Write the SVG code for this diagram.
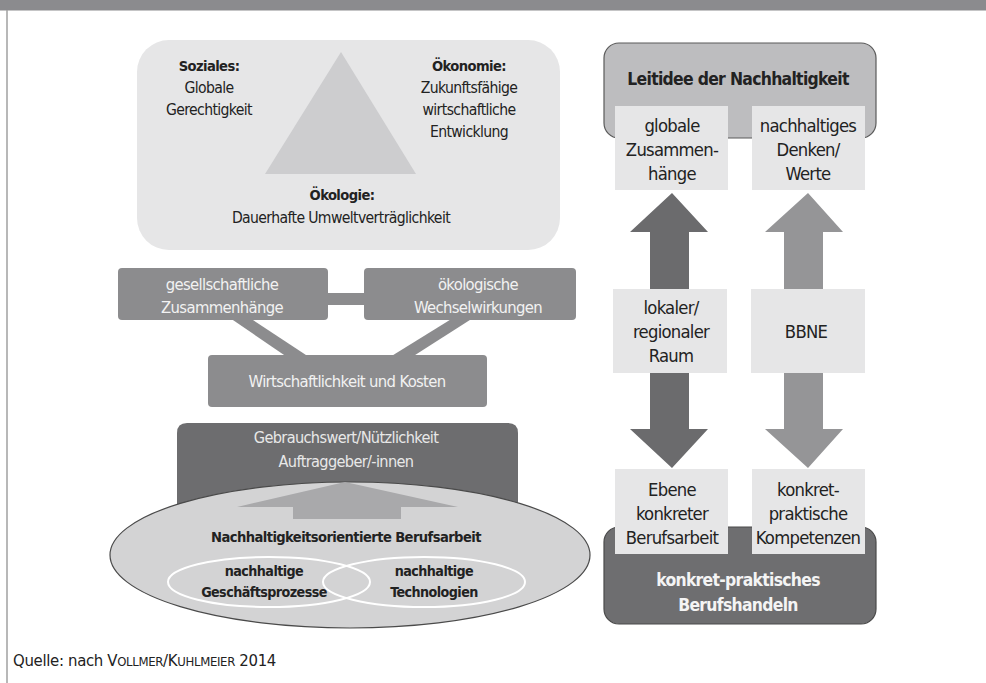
<svg xmlns="http://www.w3.org/2000/svg" width="986" height="683" viewBox="0 0 986 683">
<style>
text{font-family:"DejaVu Sans Condensed","Liberation Sans",Arial,sans-serif;text-anchor:middle;letter-spacing:-0.04em}
.l{font-size:15.6px;fill:#222}
.lh{font-size:14.6px;font-weight:bold;fill:#222}
.lb{font-size:14.6px;font-weight:bold;fill:#222}
.ib{font-size:14.2px;font-weight:bold;fill:#222}
.w{font-size:16.5px;fill:#f2f2f2}
.g{font-size:16.2px;fill:#e8e8e8}
.r{font-size:18.3px;fill:#222}
.rb{font-size:17.4px;font-weight:bold;fill:#222}
.rw{font-size:17.4px;font-weight:bold;fill:#f4f4f4}
.src{font-size:16.6px;fill:#222;text-anchor:start;letter-spacing:-0.02em}
.sc{font-size:13px}
</style>
<rect x="0" y="0" width="986" height="10.5" fill="#8b8b8e"/>
<line x1="7" y1="10" x2="7" y2="683" stroke="#a0a0a0" stroke-width="1.5"/>

<g id="pillars">
<rect x="137" y="40" width="423" height="210" rx="32" fill="#e6e6e7"/>
<polygon points="341,52 265,174 416,174" fill="#cdcdcf"/>
<text class="lh" x="209" y="71">Soziales:</text>
<text class="l" x="209" y="93">Globale</text>
<text class="l" x="209" y="115">Gerechtigkeit</text>
<text class="lh" x="469" y="71">Ökonomie:</text>
<text class="l" x="469" y="93">Zukunftsfähige</text>
<text class="l" x="469" y="115">wirtschaftliche</text>
<text class="l" x="469" y="137">Entwicklung</text>
<text class="lh" x="342" y="200">Ökologie:</text>
<text class="l" x="341" y="223">Dauerhafte Umweltverträglichkeit</text>
</g>

<g id="connectors">
<rect x="326" y="293" width="40" height="12" fill="#8c8c8e"/>
<polygon points="230,318 250,318 309,357 287,357" fill="#8c8c8e"/>
<polygon points="453,318 473,318 412,357 390,357" fill="#8c8c8e"/>
<polygon points="672,193 630,232 650,232 650,429 630,429 672,468 708,429 689,429 689,232 708,232" fill="#6b6b6d"/>
<polygon points="808,193 765,232 784,232 784,429 765,429 808,468 843,429 823,429 823,232 843,232" fill="#959597"/>
</g>

<g id="gesellschaft">
<rect x="118" y="268" width="210" height="52" rx="4" fill="#8c8c8e"/>
<text class="w" x="222" y="290">gesellschaftliche</text>
<text class="w" x="222" y="313">Zusammenhänge</text>
</g>
<g id="oekologisch">
<rect x="364" y="268" width="212" height="52" rx="4" fill="#8c8c8e"/>
<text class="w" x="478" y="290">ökologische</text>
<text class="w" x="478" y="313">Wechselwirkungen</text>
</g>
<g id="wirtschaft">
<rect x="208" y="355" width="279" height="52" rx="4" fill="#8c8c8e"/>
<text class="w" x="347" y="387">Wirtschaftlichkeit und Kosten</text>
</g>

<g id="gebrauchswert">
<path d="M177,530 V433 Q177,423 187,423 H508 Q518,423 518,433 V530 Z" fill="#6d6d6f"/>
<text class="g" x="346" y="443">Gebrauchswert/Nützlichkeit</text>
<text class="g" x="346" y="467">Auftraggeber/-innen</text>
</g>

<g id="berufsarbeit">
<ellipse cx="350" cy="555" rx="240" ry="73" fill="#d3d3d4" stroke="#4a4a4a" stroke-width="1.2"/>
<polygon points="345,482 458,507 401,507 401,519 293,519 293,507 237,507" fill="#a9a9ab"/>
<text class="lb" x="346" y="542">Nachhaltigkeitsorientierte Berufsarbeit</text>
<ellipse cx="269" cy="582" rx="101" ry="25" fill="none" stroke="#ffffff" stroke-width="2"/>
<ellipse cx="424" cy="582" rx="101" ry="25" fill="none" stroke="#ffffff" stroke-width="2"/>
<text class="ib" x="264" y="576">nachhaltige</text>
<text class="ib" x="264" y="597">Geschäftsprozesse</text>
<text class="ib" x="434" y="576">nachhaltige</text>
<text class="ib" x="434" y="597">Technologien</text>
</g>

<g id="leitidee">
<rect x="604" y="43" width="272" height="95" rx="15" fill="#bdbdbf" stroke="#5a5a5a" stroke-width="1.2"/>
<text class="rb" x="738" y="85">Leitidee der Nachhaltigkeit</text>
</g>
<g id="global">
<rect x="615" y="106" width="113" height="84" fill="#e6e6e7"/>
<text class="r" x="672" y="132">globale</text>
<text class="r" x="672" y="156">Zusammen-</text>
<text class="r" x="672" y="180">hänge</text>
</g>
<g id="denken">
<rect x="752" y="106" width="113" height="84" fill="#e6e6e7"/>
<text class="r" x="808" y="132">nachhaltiges</text>
<text class="r" x="808" y="156">Denken/</text>
<text class="r" x="808" y="180">Werte</text>
</g>
<g id="lokal">
<rect x="613" y="289" width="114" height="84" fill="#e6e6e7"/>
<text class="r" x="671" y="314">lokaler/</text>
<text class="r" x="671" y="338">regionaler</text>
<text class="r" x="671" y="362">Raum</text>
</g>
<g id="bbne">
<rect x="751" y="289" width="114" height="84" fill="#e6e6e7"/>
<text class="r" x="806" y="338">BBNE</text>
</g>

<g id="berufshandeln">
<rect x="604" y="527" width="272" height="97" rx="15" fill="#6e6e70" stroke="#4a4a4a" stroke-width="1.2"/>
<text class="rw" x="738" y="586">konkret-praktisches</text>
<text class="rw" x="738" y="611">Berufshandeln</text>
</g>
<g id="ebene">
<rect x="615" y="469" width="113" height="85" fill="#e6e6e7"/>
<text class="r" x="672" y="496">Ebene</text>
<text class="r" x="672" y="520">konkreter</text>
<text class="r" x="672" y="544">Berufsarbeit</text>
</g>
<g id="kompetenzen">
<rect x="752" y="469" width="113" height="85" fill="#e6e6e7"/>
<text class="r" x="808" y="496">konkret-</text>
<text class="r" x="808" y="520">praktische</text>
<text class="r" x="808" y="544">Kompetenzen</text>
</g>

<text class="src" x="13" y="666">Quelle: nach V<tspan class="sc">OLLMER</tspan>/K<tspan class="sc">UHLMEIER</tspan> 2014</text>
</svg>
